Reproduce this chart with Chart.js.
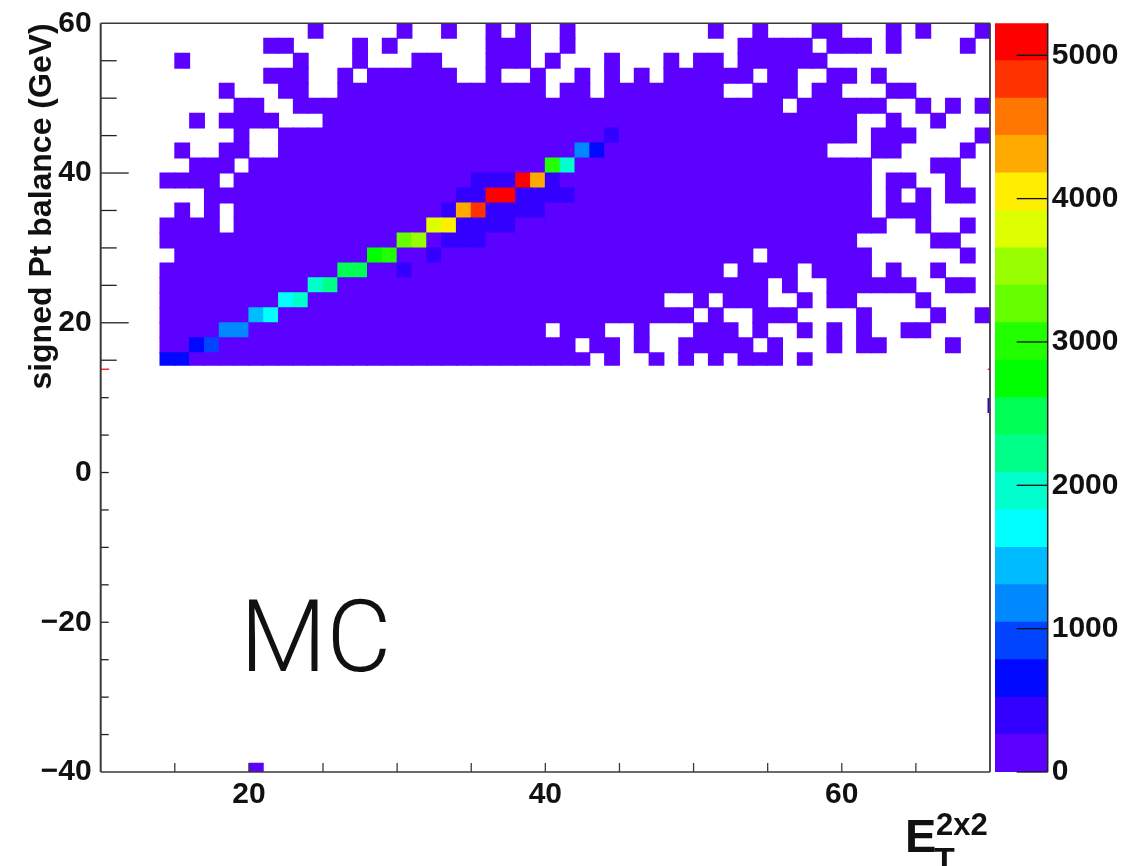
<!DOCTYPE html>
<html>
<head>
<meta charset="utf-8">
<title>signed Pt balance vs ET 2x2 (MC)</title>
<script src="https://cdn.jsdelivr.net/npm/chart.js@4"></script>
<style>
  html, body { margin: 0; padding: 0; background: #fff; overflow: hidden; }
  #page { position: relative; width: 1129px; height: 866px; overflow: hidden; }
  canvas { position: absolute; top: 0; }
  #mainChart { left: 0; }
  #colorBar { left: 995px; }
  .note { position: absolute; color: #111; white-space: nowrap; line-height: 1; }
  #mcLabel { left: 240px; top: 578px; font: 300 100px Roboto, sans-serif; }
  .et { font-family: "Liberation Sans", sans-serif; font-weight: bold; }
  #etE { left: 905px; top: 812px; font-size: 47px; }
  #etSup { left: 936px; top: 809px; font-size: 31px; }
  #etSub { left: 934px; top: 842px; font-size: 34px; }
</style>
</head>
<body>
<div id="page">
  <canvas id="mainChart" width="993" height="866"></canvas>
  <canvas id="colorBar" width="134" height="866"></canvas>
  <div class="note" id="mcLabel">MC</div>
  <div class="note et" id="etE">E</div>
  <div class="note et" id="etSup">2x2</div>
  <div class="note et" id="etSub">T</div>
</div>
<script>
// axis ranges and tick labels
const etRange = [10, 70];
const balanceRange = [-40, 60];
const etLabels = [20, 40, 60];
const etTicks = [15, 20, 25, 30, 35, 40, 45, 50, 55, 60, 65];
const balanceTicks = [55, 50, 45, 40, 35, 30, 25, 20, 15, 10, 5, 0, -5, -10, -15, -20, -25, -30, -35];
const zRange = [0, 5223];
const zTicks = [0, 1000, 2000, 3000, 4000, 5000];

// lower edge of each 2 GeV row, top of the plot first
const rowEdges = [58, 56, 54, 52, 50, 48, 46, 44, 42, 40, 38, 36, 34, 32, 30, 28, 26, 24, 22, 20, 18, 16, 14];

// filled 1 GeV columns in each row (0 is the bin from 10 to 11)
const filledBins = [
  '14 20 23 26 28 31 41 44 48-49 53 55 59',
  '11-12 17 19 26-28 31 43-47 49-51 53 58',
  '5 13 17 21-22 26-28 30 34 38 40-41 43-48',
  '11-13 16 18-23 26 29 32 34 36 38-43 45-46 49-50 52',
  '8 12-13 16-29 31-32 34-41 44-46 48-49 53-54',
  '9-10 13-45 47-52 55 57 59',
  '6 8-11 15-50 53 56',
  '9 12-50 52-54 59',
  '5 8-9 12-48 52-53 58',
  '6-8 10-51 56-57',
  '4-7 9-51 53-54 57',
  '7-51 53 55 57-58',
  '5 7 9-51 53-55',
  '4-7 9-52 55 58',
  '4-50 56-57',
  '5-43 45-51 58',
  '4-41 43-46 48-51 53 56',
  '4-44 46 49-54 57-58',
  '4-37 40 42-44 47 49-50 55',
  '4-39 41 44-46 51 56 59',
  '4-29 31-33 36 40-42 44 47 49 51 54-55',
  '4-31 33-34 36 39-43 45 49 51-52 57',
  '4-32 34 37 39 41 43-45 47'
];
const backgroundCount = 60;

// the bright ridge: row index, column index, count
const ridgeRows = [22, 22, 21, 21, 20, 20, 19, 19, 18, 18, 17, 17, 16, 16, 15, 15, 14, 14, 13, 13, 12, 12, 11, 11, 10, 10, 9, 9, 8, 8, 7];
const ridgeCols = [4, 5, 6, 7, 8, 9, 10, 11, 12, 13, 14, 15, 16, 17, 18, 19, 20, 21, 22, 23, 24, 25, 26, 27, 28, 29, 30, 31, 32, 33, 34];
const ridgeCounts = [680, 680, 700, 950, 1200, 1200, 1450, 1700, 1700, 1950, 1950, 2200, 2500, 2500, 2750, 3000, 3250, 3550, 3800, 4050, 4350, 4850, 5150, 5150, 5150, 4350, 3000, 1950, 1200, 680, 400];

// cells one level above the background, next to the ridge
const shoulderRows = [16, 15, 14, 14, 14, 13, 13, 13, 13, 12, 12, 12, 12, 12, 11, 11, 11, 11, 11, 11, 10, 10, 10, 10];
const shoulderCols = [20, 22, 23, 24, 25, 24, 25, 26, 27, 23, 26, 27, 28, 29, 24, 25, 28, 29, 30, 31, 25, 26, 27, 30];
const shoulderCount = 400;

// lone pieces of cells cut by the pad
const strayEt = [20.5];
const strayBalance = [[-40, -38.76]];
const edgeMarksEt = [10.3, 69.93];
const edgeMarksBalance = [[13.7, 13.9], [13.7, 13.9]];
const edgeBlockEt = [69.9];
const edgeBlockBalance = [[7.95, 9.95]];

// palette from bottom of the colour bar to the top
const levelColors = ['#5c00ff', '#3300ff', '#0008ff', '#0044ff', '#0088ff', '#00bbff', '#00ffff', '#00ffcc', '#00ff88', '#00ff55',
                     '#00ff00', '#22ff00', '#66ff00', '#99ff00', '#ddff00', '#ffee00', '#ffaa00', '#ff7700', '#ff3300', '#ff0000'];

const plotLeft = 100.7, plotRight = 990, plotTop = 23.3, plotBottom = 772;
const binWidth = (plotRight - plotLeft) / (etRange[1] - etRange[0]);
const axisColor = '#3a3a3a';
const textColor = '#111';
const labelFont = { family: 'Liberation Sans', size: 30, weight: 'bold' };
const titleFont = { family: 'Liberation Sans', size: 32, weight: 'bold' };

function levelColor(count) {
    const level = Math.floor(count / zRange[1] * levelColors.length);
    return levelColors[Math.min(level, levelColors.length - 1)];
}

function parseBins(text) {
    const bins = [];
    text.split(' ').forEach(function(part) {
        const ends = part.split('-').map(Number);
        for (let c = ends[0]; c <= ends[ends.length - 1]; c++) {
            bins.push(c);
        }
    });
    return bins;
}

function buildCells() {
    const counts = {};
    filledBins.forEach(function(text, row) {
        parseBins(text).forEach(function(col) {
            counts[row + ':' + col] = backgroundCount;
        });
    });
    shoulderRows.forEach(function(row, i) {
        counts[row + ':' + shoulderCols[i]] = shoulderCount;
    });
    ridgeRows.forEach(function(row, i) {
        counts[row + ':' + ridgeCols[i]] = ridgeCounts[i];
    });
    const cells = [];
    Object.keys(counts).forEach(function(key) {
        const parts = key.split(':').map(Number);
        const low = rowEdges[parts[0]];
        cells.push({
            x: etRange[0] + parts[1] + 0.5,
            // the lowest row is cut off by the pad just above 14
            y: [low === 14 ? 14.33 : low, low + 2],
            count: counts[key]
        });
    });
    return cells;
}

function pairs(xs, ys) {
    return xs.map(function(x, i) { return { x: x, y: ys[i] }; });
}

function line(ctx, x1, y1, x2, y2, color, width) {
    ctx.strokeStyle = color;
    ctx.lineWidth = width;
    ctx.beginPath();
    ctx.moveTo(x1, y1);
    ctx.lineTo(x2, y2);
    ctx.stroke();
}

// ROOT style frame with the ticks pointing inwards
const frameTicks = {
    id: 'frameTicks',
    afterDatasetsDraw(chart) {
        const ctx = chart.ctx;
        const area = chart.chartArea;
        const xs = chart.scales.x;
        const ys = chart.scales.y;
        ctx.save();
        etTicks.forEach(function(v) {
            const px = xs.getPixelForValue(v);
            line(ctx, px, area.bottom, px, area.bottom - 9, axisColor, 1.3);
        });
        balanceTicks.forEach(function(v) {
            let len = 8;
            if (v >= 15) len = v % 20 === 0 ? 28 : 16;
            const py = ys.getPixelForValue(v);
            line(ctx, area.left, py, area.left + len, py, '#222', 1.3);
        });
        line(ctx, area.left, area.top, area.right, area.top, axisColor, 1.6);
        line(ctx, area.right, area.top, area.right, area.bottom, axisColor, 1.8);
        line(ctx, area.left, area.bottom, area.right, area.bottom, axisColor, 1.6);
        line(ctx, area.left, area.top, area.left, area.bottom, axisColor, 2);
        ctx.restore();
    }
};

const barTicks = {
    id: 'barTicks',
    afterDatasetsDraw(chart) {
        const ctx = chart.ctx;
        const area = chart.chartArea;
        const zs = chart.scales.y;
        ctx.save();
        zTicks.forEach(function(v) {
            const py = zs.getPixelForValue(v);
            line(ctx, area.right - 31, py, area.right, py, '#111', 1.3);
        });
        line(ctx, area.right, area.top, area.right, area.bottom, '#222', 1.5);
        ctx.restore();
    }
};

new Chart(document.getElementById('mainChart').getContext('2d'), {
    type: 'bar',
    data: {
        datasets: [
            {
                data: buildCells(),
                backgroundColor: function(c) { return levelColor(c.raw.count); },
                barThickness: binWidth,
                grouped: false,
                inflateAmount: 0.5 // half a pixel hides the seams between cells
            },
            {
                data: pairs(strayEt, strayBalance),
                backgroundColor: levelColors[0],
                barThickness: binWidth,
                grouped: false,
                inflateAmount: 0
            },
            {
                data: pairs(edgeMarksEt.slice(0, 1), edgeMarksBalance.slice(0, 1)),
                backgroundColor: '#ff2a2a',
                barThickness: 8,
                grouped: false,
                inflateAmount: 0
            },
            {
                data: pairs(edgeMarksEt.slice(1), edgeMarksBalance.slice(1)),
                backgroundColor: '#ff2a2a',
                barThickness: 2.5,
                grouped: false,
                inflateAmount: 0
            },
            {
                data: pairs(edgeBlockEt, edgeBlockBalance),
                backgroundColor: '#3a00c8',
                barThickness: 2,
                grouped: false,
                inflateAmount: 0
            }
        ]
    },
    options: {
        responsive: false,
        animation: false,
        events: [],
        layout: { padding: { top: plotTop, right: 993 - plotRight, left: 0, bottom: 0 } },
        plugins: { legend: { display: false }, tooltip: { enabled: false } },
        scales: {
            x: {
                type: 'linear',
                min: etRange[0],
                max: etRange[1],
                offset: false,
                grid: { display: false, offset: false, drawTicks: false },
                border: { display: false },
                afterBuildTicks(axis) {
                    axis.ticks = etLabels.map(function(v) { return { value: v }; });
                },
                afterFit(axis) { axis.height = 866 - plotBottom; },
                ticks: { color: textColor, font: labelFont, padding: 5, autoSkip: false, maxRotation: 0 }
            },
            y: {
                type: 'linear',
                min: balanceRange[0],
                max: balanceRange[1],
                grid: { display: false, drawTicks: false },
                border: { display: false },
                afterFit(axis) {
                    axis.width = plotLeft;
                    // the top label may stick out, keep the frame where it is
                    axis.paddingTop = 0;
                    axis.paddingBottom = 0;
                },
                title: {
                    display: true,
                    text: 'signed Pt balance (GeV)',
                    align: 'end',
                    color: textColor,
                    font: titleFont,
                    padding: { top: 23, bottom: 0 }
                },
                ticks: {
                    color: textColor,
                    font: labelFont,
                    padding: 9,
                    stepSize: 20,
                    callback: function(v) { return v < 0 ? '\u2212' + Math.abs(v) : String(v); }
                }
            }
        }
    },
    plugins: [frameTicks]
});

// colour bar, one stacked piece for each contour level
new Chart(document.getElementById('colorBar').getContext('2d'), {
    type: 'bar',
    data: {
        labels: ['z'],
        datasets: levelColors.map(function(color) {
            return {
                data: [zRange[1] / levelColors.length],
                backgroundColor: color,
                barPercentage: 1,
                categoryPercentage: 1,
                inflateAmount: 0.5
            };
        })
    },
    options: {
        responsive: false,
        animation: false,
        events: [],
        layout: { padding: { top: plotTop, bottom: 866 - plotBottom, left: 0, right: 0 } },
        plugins: { legend: { display: false }, tooltip: { enabled: false } },
        scales: {
            x: { display: false, stacked: true },
            y: {
                position: 'right',
                stacked: true,
                min: zRange[0],
                max: zRange[1],
                grid: { display: false, drawTicks: false },
                border: { display: false },
                afterBuildTicks(axis) {
                    axis.ticks = zTicks.map(function(v) { return { value: v }; });
                },
                afterFit(axis) {
                    axis.width = 134 - 52.7;
                    axis.paddingTop = 0;
                    axis.paddingBottom = 0;
                },
                ticks: {
                    color: textColor,
                    font: labelFont,
                    padding: 4,
                    callback: function(v) { return String(v); }
                }
            }
        }
    },
    plugins: [barTicks]
});
</script>
</body>
</html>
